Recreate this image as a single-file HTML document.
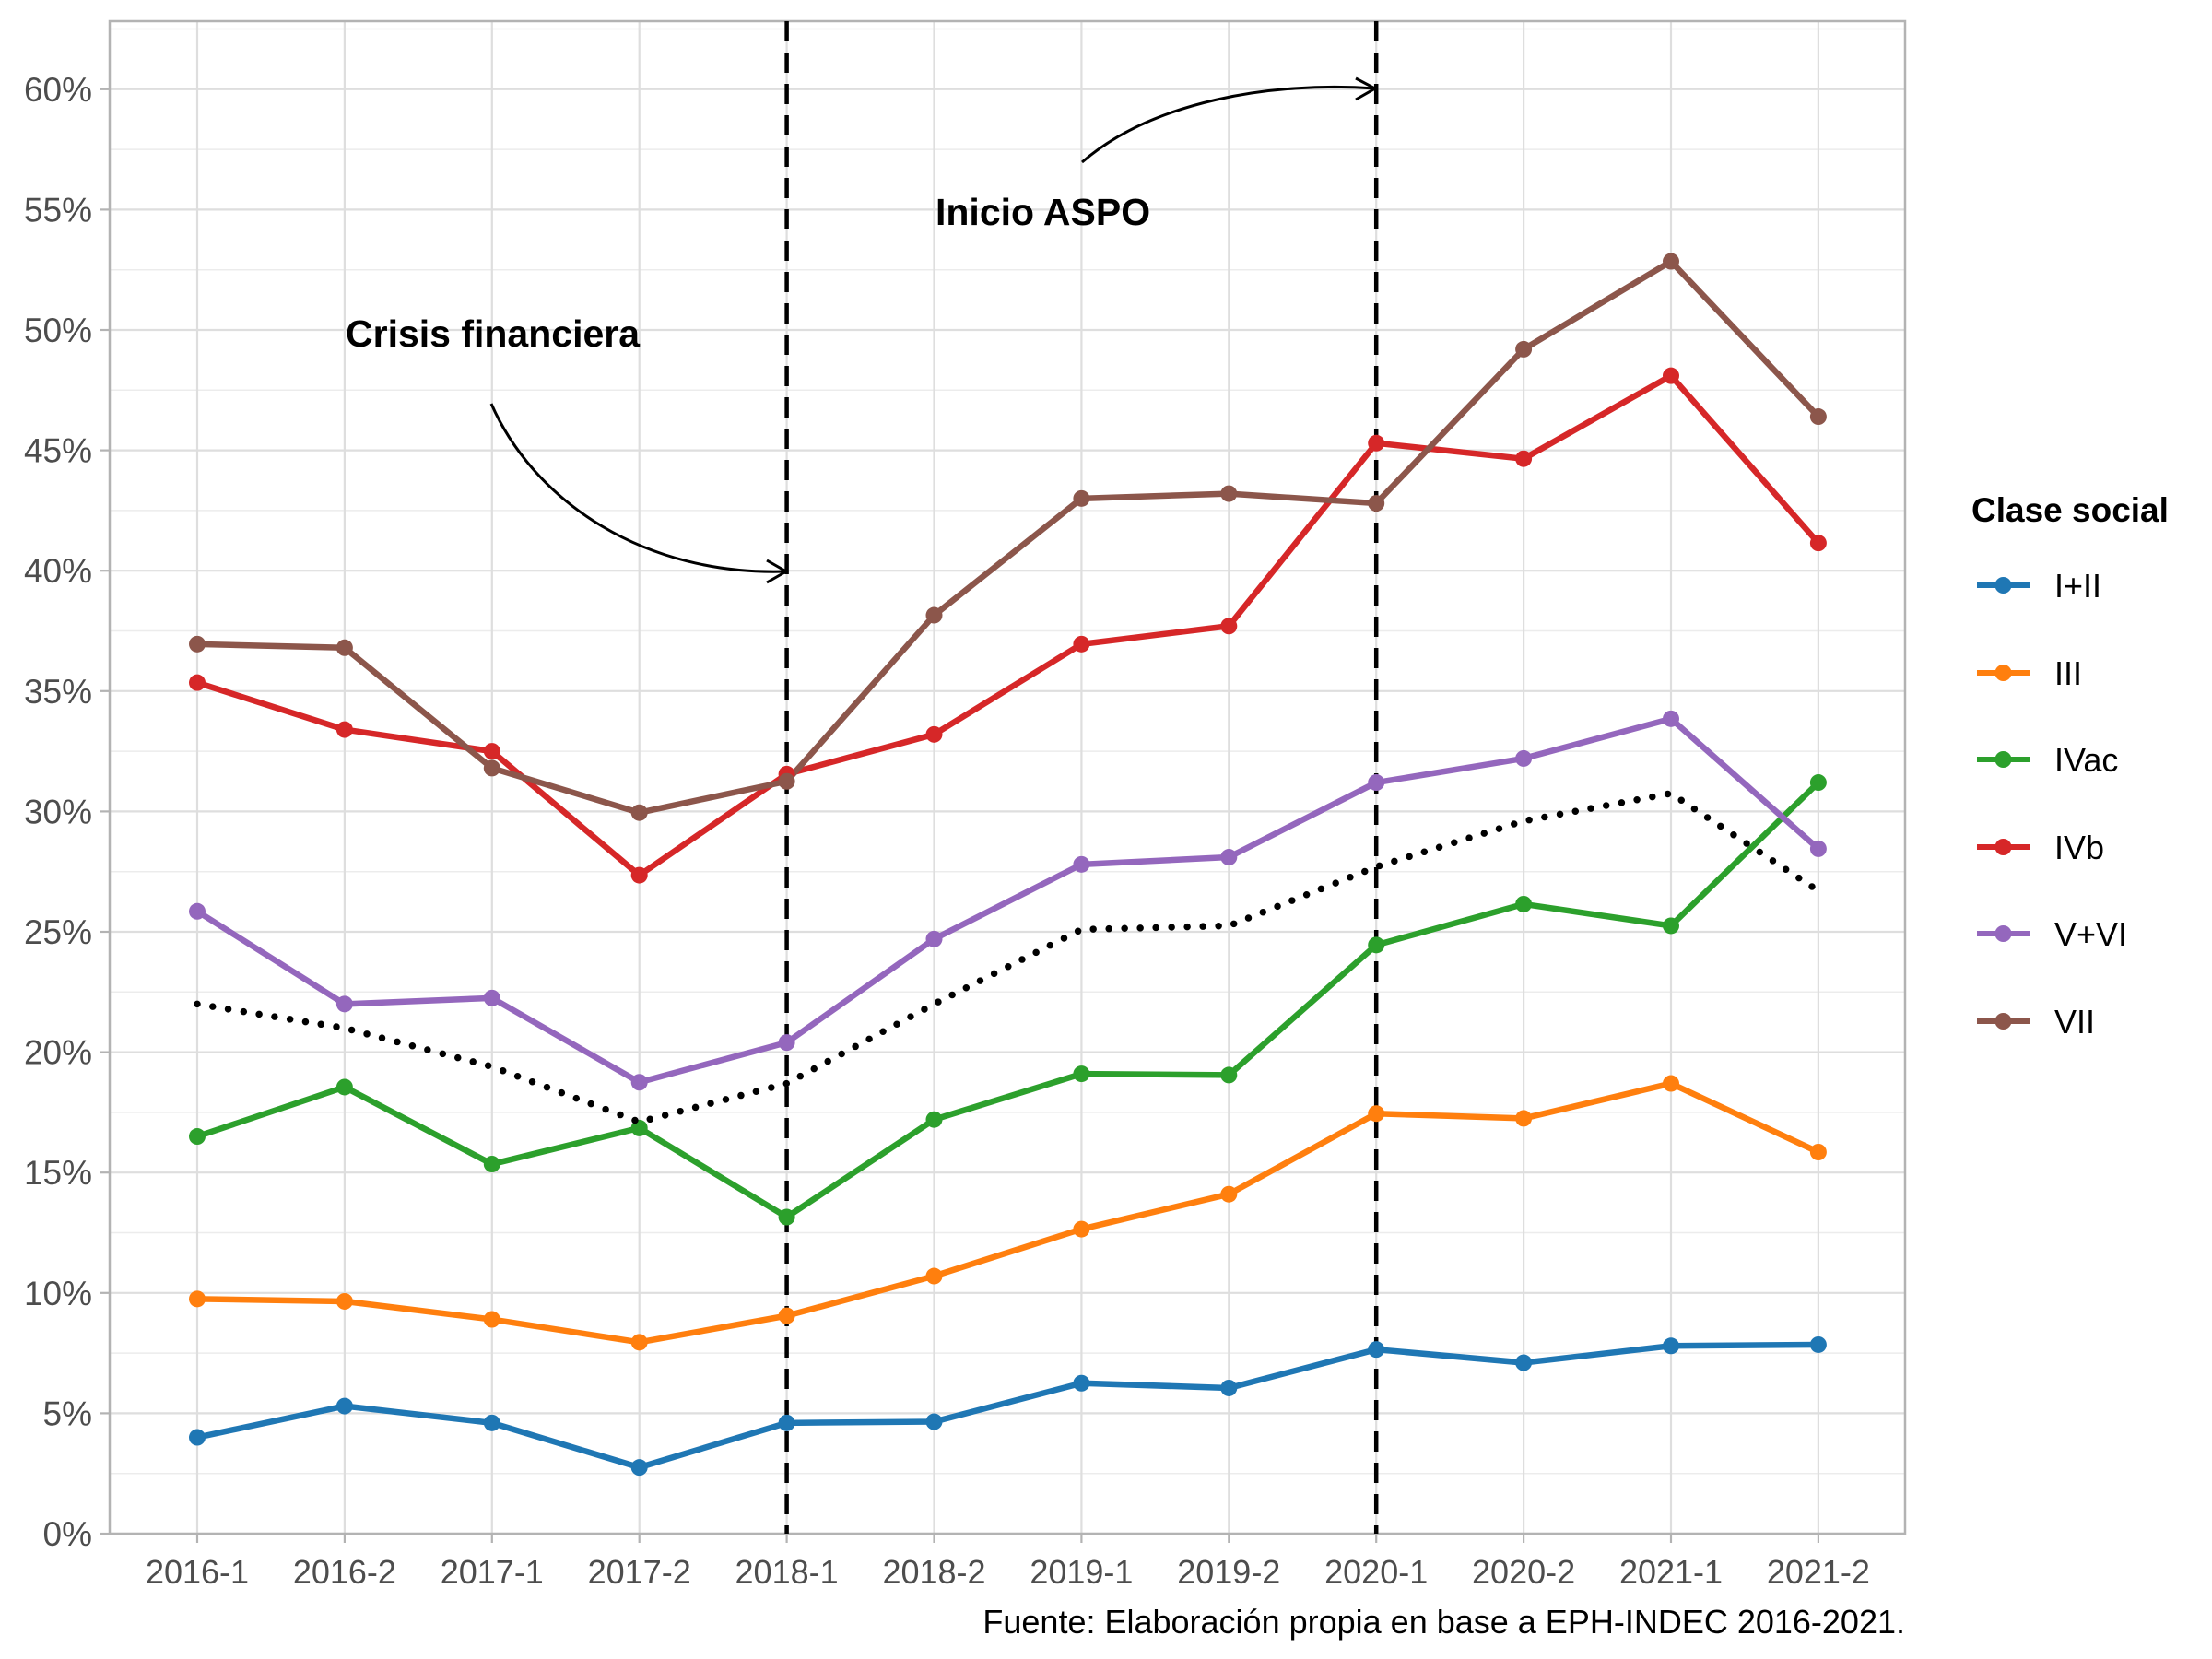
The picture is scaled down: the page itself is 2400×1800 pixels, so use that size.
<!DOCTYPE html>
<html><head><meta charset="utf-8"><style>
html,body{margin:0;padding:0;background:#fff;}
svg{display:block;font-family:"Liberation Sans",Arial,sans-serif;}
</style></head><body>
<svg width="2400" height="1800" viewBox="0 0 2400 1800" xmlns="http://www.w3.org/2000/svg">
<rect width="2400" height="1800" fill="#fff"/>
<g stroke="#ececec" stroke-width="1.5">
<line x1="119" x2="2067" y1="1598.7" y2="1598.7"/><line x1="119" x2="2067" y1="1468.1" y2="1468.1"/>
<line x1="119" x2="2067" y1="1337.5" y2="1337.5"/><line x1="119" x2="2067" y1="1206.9" y2="1206.9"/>
<line x1="119" x2="2067" y1="1076.3" y2="1076.3"/><line x1="119" x2="2067" y1="945.7" y2="945.7"/>
<line x1="119" x2="2067" y1="815.1" y2="815.1"/><line x1="119" x2="2067" y1="684.5" y2="684.5"/>
<line x1="119" x2="2067" y1="553.9" y2="553.9"/><line x1="119" x2="2067" y1="423.3" y2="423.3"/>
<line x1="119" x2="2067" y1="292.7" y2="292.7"/><line x1="119" x2="2067" y1="162.1" y2="162.1"/>
<line x1="119" x2="2067" y1="31.5" y2="31.5"/>
</g>
<g stroke="#dedede" stroke-width="2.2">
<line x1="119" x2="2067" y1="1664" y2="1664"/><line x1="119" x2="2067" y1="1533.4" y2="1533.4"/>
<line x1="119" x2="2067" y1="1402.8" y2="1402.8"/><line x1="119" x2="2067" y1="1272.2" y2="1272.2"/>
<line x1="119" x2="2067" y1="1141.6" y2="1141.6"/><line x1="119" x2="2067" y1="1011" y2="1011"/>
<line x1="119" x2="2067" y1="880.4" y2="880.4"/><line x1="119" x2="2067" y1="749.8" y2="749.8"/>
<line x1="119" x2="2067" y1="619.2" y2="619.2"/><line x1="119" x2="2067" y1="488.6" y2="488.6"/>
<line x1="119" x2="2067" y1="358" y2="358"/><line x1="119" x2="2067" y1="227.4" y2="227.4"/>
<line x1="119" x2="2067" y1="96.8" y2="96.8"/>
<line x1="214" x2="214" y1="23" y2="1664"/><line x1="373.9" x2="373.9" y1="23" y2="1664"/>
<line x1="533.8" x2="533.8" y1="23" y2="1664"/><line x1="693.7" x2="693.7" y1="23" y2="1664"/>
<line x1="853.6" x2="853.6" y1="23" y2="1664"/><line x1="1013.5" x2="1013.5" y1="23" y2="1664"/>
<line x1="1173.4" x2="1173.4" y1="23" y2="1664"/><line x1="1333.3" x2="1333.3" y1="23" y2="1664"/>
<line x1="1493.2" x2="1493.2" y1="23" y2="1664"/><line x1="1653.1" x2="1653.1" y1="23" y2="1664"/>
<line x1="1813" x2="1813" y1="23" y2="1664"/><line x1="1972.9" x2="1972.9" y1="23" y2="1664"/>
</g>
<rect x="119" y="23" width="1948" height="1641" fill="none" stroke="#b3b3b3" stroke-width="2.5"/>
<g stroke="#b3b3b3" stroke-width="2.2">
<line x1="109" x2="119" y1="1664" y2="1664"/><line x1="109" x2="119" y1="1533.4" y2="1533.4"/>
<line x1="109" x2="119" y1="1402.8" y2="1402.8"/><line x1="109" x2="119" y1="1272.2" y2="1272.2"/>
<line x1="109" x2="119" y1="1141.6" y2="1141.6"/><line x1="109" x2="119" y1="1011" y2="1011"/>
<line x1="109" x2="119" y1="880.4" y2="880.4"/><line x1="109" x2="119" y1="749.8" y2="749.8"/>
<line x1="109" x2="119" y1="619.2" y2="619.2"/><line x1="109" x2="119" y1="488.6" y2="488.6"/>
<line x1="109" x2="119" y1="358" y2="358"/><line x1="109" x2="119" y1="227.4" y2="227.4"/>
<line x1="109" x2="119" y1="96.8" y2="96.8"/>
<line x1="214" x2="214" y1="1664" y2="1674"/><line x1="373.9" x2="373.9" y1="1664" y2="1674"/>
<line x1="533.8" x2="533.8" y1="1664" y2="1674"/><line x1="693.7" x2="693.7" y1="1664" y2="1674"/>
<line x1="853.6" x2="853.6" y1="1664" y2="1674"/><line x1="1013.5" x2="1013.5" y1="1664" y2="1674"/>
<line x1="1173.4" x2="1173.4" y1="1664" y2="1674"/><line x1="1333.3" x2="1333.3" y1="1664" y2="1674"/>
<line x1="1493.2" x2="1493.2" y1="1664" y2="1674"/><line x1="1653.1" x2="1653.1" y1="1664" y2="1674"/>
<line x1="1813" x2="1813" y1="1664" y2="1674"/><line x1="1972.9" x2="1972.9" y1="1664" y2="1674"/>
</g>
<g fill="#4d4d4d" font-size="37" text-anchor="end">
<text x="100" y="1677">0%</text><text x="100" y="1546.4">5%</text>
<text x="100" y="1415.8">10%</text><text x="100" y="1285.2">15%</text>
<text x="100" y="1154.6">20%</text><text x="100" y="1024">25%</text>
<text x="100" y="893.4">30%</text><text x="100" y="762.8">35%</text>
<text x="100" y="632.2">40%</text><text x="100" y="501.6">45%</text>
<text x="100" y="371">50%</text><text x="100" y="240.4">55%</text>
<text x="100" y="109.8">60%</text>
</g>
<g fill="#4d4d4d" font-size="36" text-anchor="middle">
<text x="214" y="1718">2016-1</text><text x="373.9" y="1718">2016-2</text>
<text x="533.8" y="1718">2017-1</text><text x="693.7" y="1718">2017-2</text>
<text x="853.6" y="1718">2018-1</text><text x="1013.5" y="1718">2018-2</text>
<text x="1173.4" y="1718">2019-1</text><text x="1333.3" y="1718">2019-2</text>
<text x="1493.2" y="1718">2020-1</text><text x="1653.1" y="1718">2020-2</text>
<text x="1813" y="1718">2021-1</text><text x="1972.9" y="1718">2021-2</text>
</g>
<g stroke="#000" stroke-width="4.5" stroke-dasharray="22 12">
<line x1="853.6" x2="853.6" y1="23" y2="1664"/>
<line x1="1493.2" x2="1493.2" y1="23" y2="1664"/>
</g>
<g transform="translate(214,1664) scale(159.9,-26.12)" fill="none" stroke-linejoin="round">
<g stroke-width="6.5">
<polyline vector-effect="non-scaling-stroke" stroke="#1f77b4" points="0,4.0 1,5.3 2,4.6 3,2.75 4,4.6 5,4.65 6,6.25 7,6.05 8,7.65 9,7.1 10,7.8 11,7.85"/>
<polyline vector-effect="non-scaling-stroke" stroke="#ff7f0e" points="0,9.75 1,9.65 2,8.9 3,7.95 4,9.05 5,10.7 6,12.65 7,14.1 8,17.45 9,17.25 10,18.7 11,15.85"/>
<polyline vector-effect="non-scaling-stroke" stroke="#2ca02c" points="0,16.5 1,18.55 2,15.35 3,16.85 4,13.15 5,17.2 6,19.1 7,19.05 8,24.45 9,26.15 10,25.25 11,31.2"/>
<polyline vector-effect="non-scaling-stroke" stroke="#d62728" points="0,35.35 1,33.4 2,32.5 3,27.35 4,31.55 5,33.2 6,36.95 7,37.7 8,45.3 9,44.65 10,48.1 11,41.15"/>
<polyline vector-effect="non-scaling-stroke" stroke="#9467bd" points="0,25.85 1,22.0 2,22.25 3,18.75 4,20.4 5,24.7 6,27.8 7,28.1 8,31.2 9,32.2 10,33.85 11,28.45"/>
<polyline vector-effect="non-scaling-stroke" stroke="#8c564b" points="0,36.95 1,36.8 2,31.8 3,29.95 4,31.25 5,38.15 6,43.0 7,43.2 8,42.8 9,49.2 10,52.85 11,46.4"/>
</g>
<g stroke-width="18" stroke-linecap="round">
<path vector-effect="non-scaling-stroke" stroke="#1f77b4" d="M0,4.0h0M1,5.3h0M2,4.6h0M3,2.75h0M4,4.6h0M5,4.65h0M6,6.25h0M7,6.05h0M8,7.65h0M9,7.1h0M10,7.8h0M11,7.85h0"/>
<path vector-effect="non-scaling-stroke" stroke="#ff7f0e" d="M0,9.75h0M1,9.65h0M2,8.9h0M3,7.95h0M4,9.05h0M5,10.7h0M6,12.65h0M7,14.1h0M8,17.45h0M9,17.25h0M10,18.7h0M11,15.85h0"/>
<path vector-effect="non-scaling-stroke" stroke="#2ca02c" d="M0,16.5h0M1,18.55h0M2,15.35h0M3,16.85h0M4,13.15h0M5,17.2h0M6,19.1h0M7,19.05h0M8,24.45h0M9,26.15h0M10,25.25h0M11,31.2h0"/>
<path vector-effect="non-scaling-stroke" stroke="#d62728" d="M0,35.35h0M1,33.4h0M2,32.5h0M3,27.35h0M4,31.55h0M5,33.2h0M6,36.95h0M7,37.7h0M8,45.3h0M9,44.65h0M10,48.1h0M11,41.15h0"/>
<path vector-effect="non-scaling-stroke" stroke="#9467bd" d="M0,25.85h0M1,22.0h0M2,22.25h0M3,18.75h0M4,20.4h0M5,24.7h0M6,27.8h0M7,28.1h0M8,31.2h0M9,32.2h0M10,33.85h0M11,28.45h0"/>
<path vector-effect="non-scaling-stroke" stroke="#8c564b" d="M0,36.95h0M1,36.8h0M2,31.8h0M3,29.95h0M4,31.25h0M5,38.15h0M6,43.0h0M7,43.2h0M8,42.8h0M9,49.2h0M10,52.85h0M11,46.4h0"/>
</g>
</g>
<polyline fill="none" stroke="#000" stroke-width="7.5" stroke-linecap="round" stroke-dasharray="0 17" points="214,1089.4 373.9,1115.5 533.8,1157.3 693.7,1217.3 853.6,1175.6 1013.5,1089.4 1173.4,1008.4 1333.3,1004.5 1493.2,940.5 1653.1,890.8 1813,860.8 1972.9,966.6"/>
<g fill="#000" font-weight="bold" font-size="41">
<text x="375" y="376">Crisis financiera</text>
<text x="1015" y="244">Inicio ASPO</text>
</g>
<g fill="none" stroke="#000" stroke-width="3">
<path d="M533,438 C580,545 700,625 853,620"/>
<path d="M832,608 L853,620 L832,632"/>
<path d="M1174,176 C1250,110 1380,88 1492,96"/>
<path d="M1471,85 L1492,96 L1471,108"/>
</g>
<text x="2139" y="566" font-size="37" font-weight="bold" fill="#000">Clase social</text>
<g stroke-width="6">
<line x1="2145" x2="2202" y1="635" y2="635" stroke="#1f77b4"/><circle cx="2173.5" cy="635" r="9" fill="#1f77b4" stroke="none"/>
<line x1="2145" x2="2202" y1="730" y2="730" stroke="#ff7f0e"/><circle cx="2173.5" cy="730" r="9" fill="#ff7f0e" stroke="none"/>
<line x1="2145" x2="2202" y1="824" y2="824" stroke="#2ca02c"/><circle cx="2173.5" cy="824" r="9" fill="#2ca02c" stroke="none"/>
<line x1="2145" x2="2202" y1="919" y2="919" stroke="#d62728"/><circle cx="2173.5" cy="919" r="9" fill="#d62728" stroke="none"/>
<line x1="2145" x2="2202" y1="1013" y2="1013" stroke="#9467bd"/><circle cx="2173.5" cy="1013" r="9" fill="#9467bd" stroke="none"/>
<line x1="2145" x2="2202" y1="1108" y2="1108" stroke="#8c564b"/><circle cx="2173.5" cy="1108" r="9" fill="#8c564b" stroke="none"/>
</g>
<g font-size="36" fill="#000">
<text x="2229" y="648">I+II</text><text x="2229" y="743">III</text>
<text x="2229" y="837">IVac</text><text x="2229" y="932">IVb</text>
<text x="2229" y="1026">V+VI</text><text x="2229" y="1121">VII</text>
</g>
<text x="2067" y="1772" font-size="36" fill="#000" text-anchor="end">Fuente: Elaboración propia en base a EPH-INDEC 2016-2021.</text>
</svg>
</body></html>
